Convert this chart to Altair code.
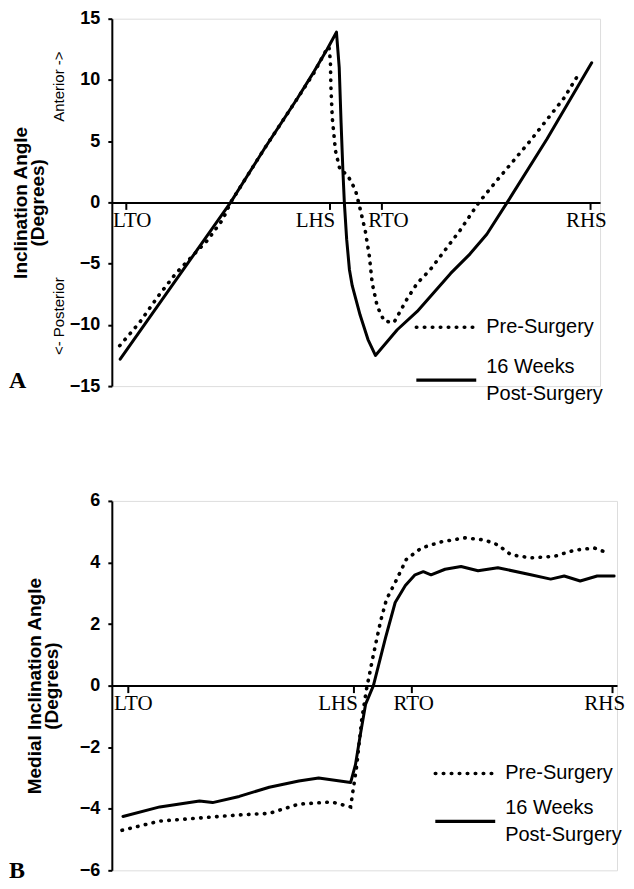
import altair as alt
import pandas as pd

# ---------------- data ----------------
series = ["Pre-Surgery", "16 Weeks Post-Surgery"]
legend_lines = [["Pre-Surgery"], ["16 Weeks", "Post-Surgery"]]
events = ["LTO", "LHS", "RTO", "RHS"]

# Panel A : inclination angle (degrees) vs % gait (LTO=0, RHS=100)
a_event_x = [0, 44, 55, 100]
a_pre_x = [-1.3, 3.0, 6.9, 10.8, 14.8, 17.6, 20.9, 22.6, 29.9, 37.0, 40.6, 42.0, 43.0,
           43.8, 44.1, 44.2, 44.5, 45.2, 46.2, 47.7, 49.5, 50.3, 51.6, 52.5, 53.1,
           54.2, 55.7, 57.8, 60.6, 62.8, 65.6, 72.0, 76.1, 80.0, 87.1, 94.4, 97.8]
a_pre_y = [-11.7, -9.8, -7.7, -5.8, -4.2, -3.1, -1.4, 0.0, 4.4, 8.5, 10.6, 11.6, 12.3,
           12.7, 11.5, 9.5, 6.9, 4.2, 2.6, 2.3, 1.0, -0.2, -2.3, -4.4, -6.6,
           -8.5, -9.7, -9.8, -7.9, -6.6, -5.5, -2.3, 0.0, 1.8, 5.0, 8.5, 10.6]
a_post_x = [-1.2, 22.6, 29.9, 37.0, 40.6, 43.4, 45.4, 46.0, 46.4, 46.8, 47.1, 47.6,
            48.2, 48.8, 50.5, 52.2, 53.8, 58.5, 62.8, 70.0, 74.2, 77.8, 82.2, 90.8,
            100.4]
a_post_y = [-12.8, 0.0, 4.4, 8.5, 10.7, 12.5, 13.9, 11.0, 6.5, 2.5, 0.0, -3.0,
            -5.5, -6.8, -9.2, -11.2, -12.5, -10.4, -8.9, -5.8, -4.2, -2.6, 0.0, 5.2,
            11.4]

# Panel B : medial inclination angle (degrees)
b_event_x = [0, 46.6, 58.5, 100]
b_pre_x = [-1.2, 6.6, 14.8, 23.0, 29.2, 35.3, 42.1, 46.0, 46.6, 47.2, 48.3, 49.3,
           50.7, 52.2, 53.4, 55.2, 57.5, 60.6, 64.7, 69.6, 73.7, 76.4, 79.1, 83.2,
           88.1, 92.2, 96.3, 98.4]
b_pre_y = [-4.7, -4.4, -4.3, -4.2, -4.15, -3.85, -3.78, -3.94, -3.3, -2.67, -1.1, -0.1,
           1.0, 2.1, 2.8, 3.35, 4.1, 4.47, 4.67, 4.8, 4.73, 4.57, 4.25, 4.15,
           4.2, 4.4, 4.47, 4.35]
b_post_x = [-1.0, 6.6, 14.8, 17.5, 23.0, 29.2, 35.3, 39.4, 46.0, 47.0, 48.0, 49.1,
            50.7, 53.2, 55.2, 57.3, 59.3, 61.0, 62.6, 65.5, 68.8, 72.3, 76.4, 83.2,
            87.3, 90.1, 93.4, 96.9, 100.4]
b_post_y = [-4.25, -3.94, -3.75, -3.8, -3.6, -3.3, -3.1, -3.0, -3.15, -2.57, -1.6, -0.6,
            0.0, 1.55, 2.7, 3.25, 3.6, 3.7, 3.6, 3.78, 3.87, 3.73, 3.83, 3.6,
            3.46, 3.56, 3.4, 3.56, 3.56]

SANS = "Liberation Sans"
SERIF = "Liberation Serif"
DOT = [0.5, 7.5]


def label_expr(ev_x):
    parts = [f"datum.value == {v} ? '{name}' : " for v, name in zip(ev_x, events)]
    return "".join(parts) + "''"


def offset_cond(ev_x, offs):
    return {
        "condition": [{"test": f"datum.value == {v}", "value": o} for v, o in zip(ev_x, offs)],
        "value": 0,
    }


def one(text):
    return pd.DataFrame({"t": [text]})


def panel(pre_x, pre_y, post_x, post_y, ev_x, lab_offs, xdom, ydom, yvals, ytitle,
          w, h, title_pad, letter, letter_y, notes, leg):
    df = pd.concat([
        pd.DataFrame({"x": pre_x, "y": pre_y, "s": series[0]}),
        pd.DataFrame({"x": post_x, "y": post_y, "s": series[1]}),
    ])
    base = alt.Chart(df).encode(
        x=alt.X("x:Q", scale=alt.Scale(domain=xdom, nice=False, zero=False),
                axis=alt.Axis(values=ev_x, labelExpr=label_expr(ev_x), title=None,
                              offset=-h / 2, grid=False, domainColor="black",
                              domainWidth=2, tickColor="black", tickWidth=2, tickSize=7,
                              labelFont=SERIF, labelFontSize=21, labelColor="black",
                              labelPadding=0, labelFlush=False, labelOverlap=False,
                              labelOffset=offset_cond(ev_x, lab_offs))),
        y=alt.Y("y:Q", scale=alt.Scale(domain=ydom, nice=False),
                axis=alt.Axis(values=yvals, title=ytitle, grid=False,
                              domainColor="black", domainWidth=2, tickColor="black",
                              tickWidth=2, tickSize=4, labelPadding=8,
                              labelFont=SANS, labelFontSize=18, labelFontWeight="bold",
                              labelColor="black", titleFont=SANS, titleFontSize=19,
                              titleFontWeight="bold", titleColor="black",
                              titleLineHeight=17, titlePadding=title_pad)),
        order="x:Q",
    )
    pre_line = base.transform_filter(alt.datum.s == series[0]).mark_line(
        color="black", strokeWidth=3.6, strokeCap="round", strokeDash=DOT)
    post_line = base.transform_filter(alt.datum.s == series[1]).mark_line(
        color="black", strokeWidth=3, strokeCap="round", strokeJoin="round")
    layers = [pre_line, post_line]
    layers.append(alt.Chart(one(letter)).mark_text(
        font=SERIF, fontSize=24, fontWeight="bold", align="left", baseline="middle",
        color="black").encode(text="t:N", x=alt.value(-103), y=alt.value(letter_y)))
    for txt, ypx in notes:
        layers.append(alt.Chart(one(txt)).mark_text(
            font=SANS, fontSize=15, angle=270, align="center", baseline="middle",
            color="black").encode(text="t:N", x=alt.value(-53), y=alt.value(ypx)))
    # legend (key lines + labels)
    x0, x1, xt, y_pre, y_post = leg
    layers.append(alt.Chart(one(series[0])).mark_rule(
        color="black", strokeWidth=3.6, strokeCap="round", strokeDash=DOT).encode(
        x=alt.value(x0), x2=alt.value(x1), y=alt.value(y_pre)))
    layers.append(alt.Chart(one(series[1])).mark_rule(
        color="black", strokeWidth=3.2).encode(
        x=alt.value(x0), x2=alt.value(x1), y=alt.value(y_post)))
    layers.append(alt.Chart(one(legend_lines[0][0])).mark_text(
        font=SANS, fontSize=20, align="left", baseline="middle", color="black").encode(
        text="t:N", x=alt.value(xt), y=alt.value(y_pre)))
    layers.append(alt.Chart(one("|".join(legend_lines[1]))).mark_text(
        font=SANS, fontSize=20, align="left", baseline="middle", color="black",
        lineBreak="|", lineHeight=27).encode(
        text="t:N", x=alt.value(xt), y=alt.value(y_post - 13)))
    return alt.layer(*layers).properties(width=w, height=h)


pa = panel(a_pre_x, a_pre_y, a_post_x, a_post_y, a_event_x, [6, -15, 7, -4],
           [-3.0, 102.2], [-15, 15], list(range(-15, 16, 5)),
           ["Inclination Angle", "(Degrees)"], 489, 368, 22, "A", 363,
           [("Anterior ->", 68), ("<- Posterior", 298)],
           (305, 365, 375, 309, 362))
pb = panel(b_pre_x, b_pre_y, b_post_x, b_post_y, b_event_x, [5, -16, 2, -8],
           [-3.3, 101.0], [-6, 6], list(range(-6, 7, 2)),
           ["Medial Inclination Angle", "(Degrees)"], 506, 370, 18, "B", 371,
           [], (324, 384, 394, 273, 321))

chart = alt.vconcat(pa, pb, spacing=86).resolve_scale(
    x="independent", y="independent"
).properties(
    padding={"left": 0, "top": 0, "right": 0, "bottom": 0}
).configure_view(strokeWidth=0, stroke="transparent").configure(background="white")

chart.save("out.html", embed_options={"renderer": "svg", "actions": False})
